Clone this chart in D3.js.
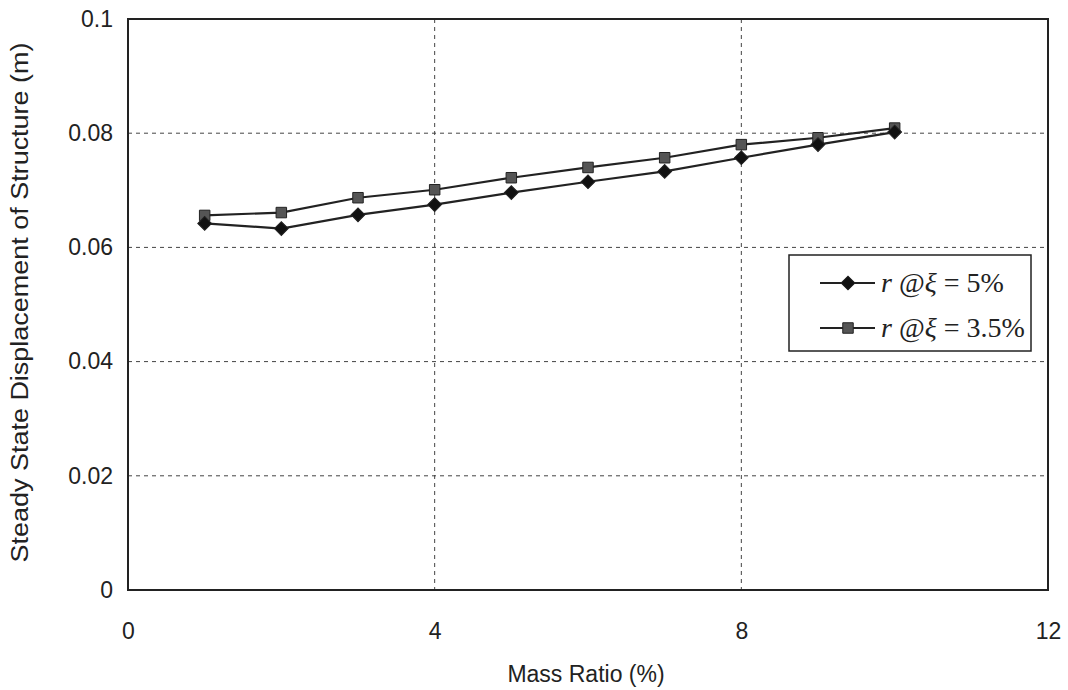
<!DOCTYPE html>
<html><head><meta charset="utf-8">
<script src="https://cdn.jsdelivr.net/npm/d3@7"></script>
<style>body{margin:0;background:#fff}svg{display:block}</style>
</head><body>
<svg id="c" width="1068" height="690"></svg>
<script>
const massRatio = [1,2,3,4,5,6,7,8,9,10];
const seriesXi5 = [0.0642,0.0633,0.0657,0.0675,0.0696,0.0715,0.0733,0.0757,0.0780,0.0802];
const seriesXi35 = [0.0656,0.0661,0.0687,0.0701,0.0722,0.0740,0.0757,0.0780,0.0792,0.0809];
const xTicks = [0,4,8,12];
const yTicks = [0,0.02,0.04,0.06,0.08,0.1];
const yTickLabels = ["0","0.02","0.04","0.06","0.08","0.1"];
const legendLabels = ["5%","3.5%"];

const svg = d3.select("#c");
const L=128, R=1048, T=19, B=590;
const x = d3.scaleLinear().domain([0,12]).range([L,R]);
const y = d3.scaleLinear().domain([0,0.1]).range([B,T]);
const FONT = "Liberation Sans, Arial, sans-serif";

// grid
svg.append("g").selectAll("line").data(yTicks.filter(d=>d>0&&d<0.1)).join("line")
  .attr("x1",L).attr("x2",R).attr("y1",d=>y(d)).attr("y2",d=>y(d))
  .attr("stroke","#444").attr("stroke-width",1).attr("stroke-dasharray","4,4");
svg.append("g").selectAll("line").data(xTicks.filter(d=>d>0&&d<12)).join("line")
  .attr("y1",T).attr("y2",B).attr("x1",d=>x(d)).attr("x2",d=>x(d))
  .attr("stroke","#444").attr("stroke-width",1).attr("stroke-dasharray","4,4");

// axes
const xa = svg.append("g").attr("transform",`translate(0,${B})`)
  .call(d3.axisBottom(x).tickValues(xTicks).tickSize(0).tickPadding(33));
xa.select(".domain").remove();
xa.selectAll("text").attr("font-family",FONT).attr("font-size",23).attr("fill","#222");
const ya = svg.append("g").attr("transform",`translate(${L},0)`)
  .call(d3.axisLeft(y).tickValues(yTicks).tickSize(0).tickPadding(15).tickFormat((d,i)=>yTickLabels[i]));
ya.select(".domain").remove();
ya.selectAll("text").attr("font-family",FONT).attr("font-size",23).attr("fill","#222");

// frame
svg.append("rect").attr("x",L).attr("y",T).attr("width",R-L).attr("height",B-T)
  .attr("fill","none").attr("stroke","#222").attr("stroke-width",2);

// titles
svg.append("text").attr("x",(L+R)/2 - 2).attr("y",682).attr("text-anchor","middle")
  .attr("font-family",FONT).attr("font-size",23).attr("fill","#222")
  .text("Mass Ratio (%)");
svg.append("text").attr("transform",`translate(28,${(T+B)/2 - 2}) rotate(-90)`).attr("text-anchor","middle")
  .attr("font-family",FONT).attr("font-size",23).attr("fill","#222")
  .attr("textLength",520).attr("lengthAdjust","spacingAndGlyphs")
  .text("Steady State Displacement of Structure (m)");

const line = d3.line().x((d,i)=>x(massRatio[i])).y(d=>y(d));
const diamondPath = d3.symbol().type(d3.symbolSquare).size(95);
const square = d3.symbol().type(d3.symbolSquare).size(110);

function drawSeries(vals, sym, fill, rot){
  svg.append("path").datum(vals).attr("d",line).attr("fill","none").attr("stroke","#222").attr("stroke-width",2.2);
  svg.append("g").selectAll("path").data(vals).join("path")
    .attr("d",sym).attr("transform",(d,i)=>`translate(${x(massRatio[i])},${y(d)}) rotate(${rot})`)
    .attr("fill",fill).attr("stroke","#222").attr("stroke-width",1);
}
drawSeries(seriesXi35, square, "#555", 0);
drawSeries(seriesXi5, diamondPath, "#111", 45);

// legend
const lg = svg.append("g");
lg.append("rect").attr("x",789).attr("y",255).attr("width",242).attr("height",96)
  .attr("fill","#fff").attr("stroke","#222").attr("stroke-width",1.5);
const items = [{lab:legendLabels[0],sym:diamondPath,fill:"#111",rot:45,yy:283},{lab:legendLabels[1],sym:square,fill:"#555",rot:0,yy:328}];
items.forEach(it=>{
  lg.append("line").attr("x1",820).attr("x2",875).attr("y1",it.yy).attr("y2",it.yy).attr("stroke","#222").attr("stroke-width",2);
  lg.append("path").attr("d",it.sym).attr("transform",`translate(848,${it.yy}) rotate(${it.rot})`).attr("fill",it.fill).attr("stroke","#222");
  const t = lg.append("text").attr("x",881).attr("y",it.yy+9)
    .attr("font-family","Liberation Serif, Times New Roman, serif").attr("font-size",28).attr("fill","#222");
  t.append("tspan").attr("font-style","italic").text("r");
  t.append("tspan").text(" @");
  t.append("tspan").attr("font-style","italic").text("ξ");
  t.append("tspan").text(" = " + it.lab);
});
</script>
</body></html>
